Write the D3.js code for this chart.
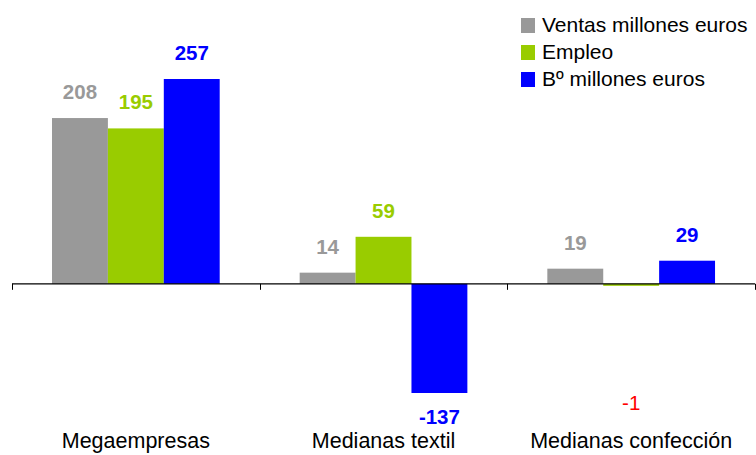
<!DOCTYPE html>
<html><head><meta charset="utf-8">
<script src="https://cdn.jsdelivr.net/npm/d3@7"></script>
<style>body{margin:0;background:#fff}svg{display:block}text{font-family:"Liberation Sans",Arial,sans-serif}</style>
</head><body>
<svg id="c" width="756" height="455"></svg>
<script>
const categories = ["Megaempresas", "Medianas textil", "Medianas confección"];
const seriesNames = ["Ventas millones euros", "Empleo", "Bº millones euros"];
const ventas = [208, 14, 19];
const empleo = [195, 59, -1];
const beneficio = [257, -137, 29];
const seriesColors = ["#999999", "#99cc00", "#0000ff"];

const seriesValues = [ventas, empleo, beneficio];
const svg = d3.select("#c");

const x0 = d3.scaleBand().domain(categories).range([12, 755]).padding(0);
const x1 = d3.scaleBand().domain(d3.range(3)).range([40, 207.7]).padding(0);
const allVals = seriesValues.flat();
const y = d3.scaleLinear().domain([d3.min(allVals), d3.max(allVals)]).range([393, 79]);

const data = [];
categories.forEach((c, ci) => seriesValues.forEach((vals, si) => data.push({c, ci, si, v: vals[ci]})));

const g = svg.append("g");
g.selectAll("rect.bar").data(data).join("rect")
  .attr("x", d => x0(d.c) + x1(d.si))
  .attr("width", x1.bandwidth())
  .attr("y", d => y(Math.max(0, d.v)))
  .attr("height", d => Math.max(2, Math.abs(y(d.v) - y(0))))
  .attr("fill", d => seriesColors[d.si]);

// axis
const axisY = y(0);
svg.append("line").attr("x1", 12).attr("x2", 755).attr("y1", axisY).attr("y2", axisY)
  .attr("stroke", "#000").attr("stroke-width", 1.2);
const tickXs = categories.map(c => x0(c)).concat([x0.range()[1]]);
svg.selectAll("line.tick").data(tickXs).join("line")
  .attr("x1", d => Math.round(d) + 0.5).attr("x2", d => Math.round(d) + 0.5)
  .attr("y1", axisY).attr("y2", axisY + 6).attr("stroke", "#000");

// category labels
svg.selectAll("text.cat").data(categories).join("text")
  .attr("x", d => x0(d) + x0.bandwidth() / 2).attr("y", 448)
  .attr("text-anchor", "middle").attr("font-size", 21.5).attr("fill", "#000")
  .text(d => d);

// value labels
const tiny = d => d.v < 0 && Math.abs(y(d.v) - y(0)) < 10;
svg.selectAll("text.val").data(data).join("text")
  .attr("x", d => x0(d.c) + x1(d.si) + x1.bandwidth() / 2)
  .attr("y", d => {
    if (d.v >= 0) return y(d.v) - 19;
    if (tiny(d)) return 410;
    return y(d.v) + 31;
  })
  .attr("text-anchor", "middle").attr("font-size", 20.5)
  .attr("font-weight", d => tiny(d) ? "normal" : "bold")
  .attr("fill", d => tiny(d) ? "#ff0000" : seriesColors[d.si])
  .text(d => d.v);

// legend
const leg = svg.append("g");
seriesNames.forEach((n, i) => {
  leg.append("rect").attr("x", 521).attr("y", 18 + i * 27).attr("width", 14).attr("height", 15)
    .attr("fill", seriesColors[i]);
  leg.append("text").attr("x", 542).attr("y", 32 + i * 27).attr("font-size", 21).attr("fill", "#000")
    .text(n);
});
</script>
</body></html>
